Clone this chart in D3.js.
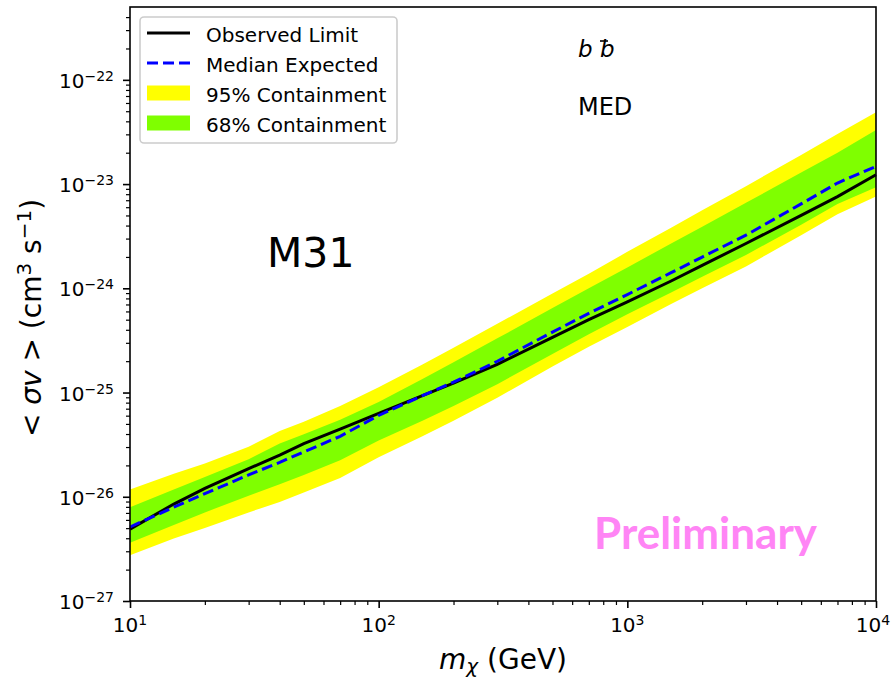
<!DOCTYPE html>
<html>
<head>
<meta charset="utf-8">
<script src="https://cdn.jsdelivr.net/npm/d3@7"></script>
<style>
  body { margin: 0; background: #fff; }
  svg { display: block; font-family: "DejaVu Sans", sans-serif; }
</style>
</head>
<body>
<div id="chart"></div>
<script>
// dark matter mass grid (GeV)
const masses = [10, 15, 20, 30, 40, 50, 70, 100, 150, 200, 300, 500, 700, 1000, 1500, 2000, 3000, 5000, 7000, 10000];

// log10(<sigma v>)
const observedLog = [-26.31, -26.07, -25.92, -25.73, -25.60, -25.49, -25.35, -25.20, -25.03, -24.91, -24.73, -24.47, -24.30, -24.13, -23.93, -23.78, -23.57, -23.30, -23.12, -22.91];
const medianLog   = [-26.29, -26.10, -25.97, -25.79, -25.67, -25.57, -25.42, -25.22, -25.03, -24.90, -24.70, -24.42, -24.24, -24.06, -23.85, -23.70, -23.49, -23.19, -22.99, -22.83];
const up95Log     = [-25.93, -25.78, -25.68, -25.52, -25.37, -25.28, -25.13, -24.95, -24.73, -24.57, -24.34, -24.05, -23.86, -23.65, -23.42, -23.25, -23.02, -22.72, -22.52, -22.31];
const up68Log     = [-26.10, -25.93, -25.81, -25.64, -25.49, -25.40, -25.26, -25.09, -24.87, -24.71, -24.48, -24.19, -24.00, -23.80, -23.57, -23.41, -23.18, -22.89, -22.70, -22.48];
const lo68Log     = [-26.44, -26.27, -26.15, -25.99, -25.88, -25.79, -25.65, -25.46, -25.27, -25.13, -24.92, -24.63, -24.44, -24.25, -24.04, -23.89, -23.68, -23.39, -23.19, -23.03];
const lo95Log     = [-26.56, -26.40, -26.30, -26.15, -26.05, -25.96, -25.82, -25.62, -25.42, -25.27, -25.05, -24.75, -24.56, -24.37, -24.15, -24.00, -23.79, -23.49, -23.29, -23.12];

const xTickExps = [1, 2, 3, 4];
const yTickExps = [-27, -26, -25, -24, -23, -22];

const legendLabels = ["Observed Limit", "Median Expected", "95% Containment", "68% Containment"];

const W = 891, H = 680;
const L = 130, R = 876, T = 7, B = 601;

const svg = d3.select("#chart").append("svg")
  .attr("width", W)
  .attr("height", H);

const x = d3.scaleLog().domain([10, 1e4]).range([L, R]);
const y = d3.scaleLog().domain([1e-27, 5e-22]).range([B, T]);

const rows = masses.map((m, i) => ({
  m: m,
  obs: Math.pow(10, observedLog[i]),
  med: Math.pow(10, medianLog[i]),
  u95: Math.pow(10, up95Log[i]),
  u68: Math.pow(10, up68Log[i]),
  l68: Math.pow(10, lo68Log[i]),
  l95: Math.pow(10, lo95Log[i])
}));

// bands
const band = (lo, hi) => d3.area()
  .x(d => x(d.m))
  .y0(d => y(d[lo]))
  .y1(d => y(d[hi]));

svg.append("path")
  .attr("d", band("l95", "u95")(rows))
  .attr("fill", "#ffff00");

svg.append("path")
  .attr("d", band("l68", "u68")(rows))
  .attr("fill", "#7fff00");

const line = key => d3.line().x(d => x(d.m)).y(d => y(d[key]));

svg.append("path")
  .attr("d", line("obs")(rows))
  .attr("fill", "none")
  .attr("stroke", "#000")
  .attr("stroke-width", 3);

svg.append("path")
  .attr("d", line("med")(rows))
  .attr("fill", "none")
  .attr("stroke", "#0000ff")
  .attr("stroke-width", 3)
  .attr("stroke-dasharray", "11,5");

// axes ticks
const xMinor = [];
const yMinor = [];
for (let e = 1; e < 4; e++) for (let k = 2; k <= 9; k++) xMinor.push(k * Math.pow(10, e));
for (let e = -27; e < -21; e++) for (let k = 2; k <= 9; k++) {
  const v = k * Math.pow(10, e);
  if (v <= 5e-22) yMinor.push(v);
}

function styleAxis(g) {
  g.select(".domain").remove();
  g.selectAll("line").attr("stroke", "#000").attr("stroke-width", 1.6);
}

svg.append("g").attr("transform", `translate(0,${B})`)
  .call(d3.axisBottom(x).tickValues(xTickExps.map(e => Math.pow(10, e))).tickSize(7).tickFormat(""))
  .call(styleAxis);
svg.append("g").attr("transform", `translate(0,${B})`)
  .call(d3.axisBottom(x).tickValues(xMinor).tickSize(4).tickFormat(""))
  .call(g => { styleAxis(g); g.selectAll("line").attr("stroke-width", 1.2); });
svg.append("g").attr("transform", `translate(${L},0)`)
  .call(d3.axisLeft(y).tickValues(yTickExps.map(e => Math.pow(10, e))).tickSize(7).tickFormat(""))
  .call(styleAxis);
svg.append("g").attr("transform", `translate(${L},0)`)
  .call(d3.axisLeft(y).tickValues(yMinor).tickSize(4).tickFormat(""))
  .call(g => { styleAxis(g); g.selectAll("line").attr("stroke-width", 1.2); });

// tick labels
function powLabel(sel, exp) {
  sel.append("tspan").text("10");
  sel.append("tspan").attr("dy", -7).attr("font-size", 14)
    .text(exp < 0 ? "\u2212" + Math.abs(exp) : String(exp));
}

xTickExps.forEach(e => {
  const t = svg.append("text")
    .attr("x", x(Math.pow(10, e)) + (e === 4 ? -3 : 0))
    .attr("y", 632)
    .attr("text-anchor", "middle")
    .attr("font-size", 20);
  powLabel(t, e);
});

yTickExps.forEach(e => {
  const t = svg.append("text")
    .attr("x", 114)
    .attr("y", y(Math.pow(10, e)) + 8)
    .attr("text-anchor", "end")
    .attr("font-size", 20);
  powLabel(t, e);
});

// frame
svg.append("rect")
  .attr("x", L).attr("y", T)
  .attr("width", R - L).attr("height", B - T)
  .attr("fill", "none")
  .attr("stroke", "#000")
  .attr("stroke-width", 1.6);

// axis labels
const xl = svg.append("text")
  .attr("x", (L + R) / 2)
  .attr("y", 669)
  .attr("text-anchor", "middle")
  .attr("font-size", 28);
xl.append("tspan").attr("font-style", "italic").text("m");
xl.append("tspan").attr("font-style", "italic").attr("font-size", 20).attr("dy", 4).text("\u03c7");
xl.append("tspan").attr("dy", -4).text(" (GeV)");

const yl = svg.append("text")
  .attr("transform", "translate(41,318) rotate(-90)")
  .attr("text-anchor", "middle")
  .attr("font-size", 28);
yl.append("tspan").text("< ");
yl.append("tspan").attr("font-style", "italic").text("\u03c3v");
yl.append("tspan").text(" > (cm");
yl.append("tspan").attr("font-size", 20).attr("dy", -10).text("3");
yl.append("tspan").attr("dy", 10).text(" s");
yl.append("tspan").attr("font-size", 20).attr("dy", -10).text("\u22121");
yl.append("tspan").attr("dy", 10).text(")");

// annotations
svg.append("text").attr("x", 267).attr("y", 267).attr("font-size", 41).text("M31");

const bb = svg.append("text").attr("x", 578).attr("y", 57).attr("font-size", 23).attr("font-style", "italic");
bb.append("tspan").text("b ");
bb.append("tspan").text("b");
svg.append("line")
  .attr("x1", 600).attr("x2", 608).attr("y1", 41).attr("y2", 41)
  .attr("stroke", "#000").attr("stroke-width", 1.6);

svg.append("text").attr("x", 578).attr("y", 115).attr("font-size", 24).text("MED");

svg.append("text")
  .attr("x", 594).attr("y", 549)
  .attr("font-family", "Lato, sans-serif")
  .attr("font-weight", "bold")
  .attr("font-size", 44)
  .attr("fill", "#ff85f5")
  .text("Preliminary");

// legend
const lg = svg.append("g");
lg.append("rect")
  .attr("x", 140).attr("y", 17)
  .attr("width", 257).attr("height", 126)
  .attr("rx", 4)
  .attr("fill", "#fff").attr("fill-opacity", 0.8)
  .attr("stroke", "#cccccc").attr("stroke-width", 1.6);

const rowY = [33, 63, 93, 123];
lg.append("line").attr("x1", 147).attr("x2", 190).attr("y1", rowY[0]).attr("y2", rowY[0])
  .attr("stroke", "#000").attr("stroke-width", 3);
lg.append("line").attr("x1", 147).attr("x2", 190).attr("y1", rowY[1]).attr("y2", rowY[1])
  .attr("stroke", "#0000ff").attr("stroke-width", 3).attr("stroke-dasharray", "11,5");
lg.append("rect").attr("x", 147).attr("y", rowY[2] - 7.5).attr("width", 43).attr("height", 15).attr("fill", "#ffff00");
lg.append("rect").attr("x", 147).attr("y", rowY[3] - 7.5).attr("width", 43).attr("height", 15).attr("fill", "#7fff00");

legendLabels.forEach((s, i) => {
  lg.append("text").attr("x", 206).attr("y", rowY[i] + 9).attr("font-size", 20).text(s);
});
</script>
</body>
</html>
